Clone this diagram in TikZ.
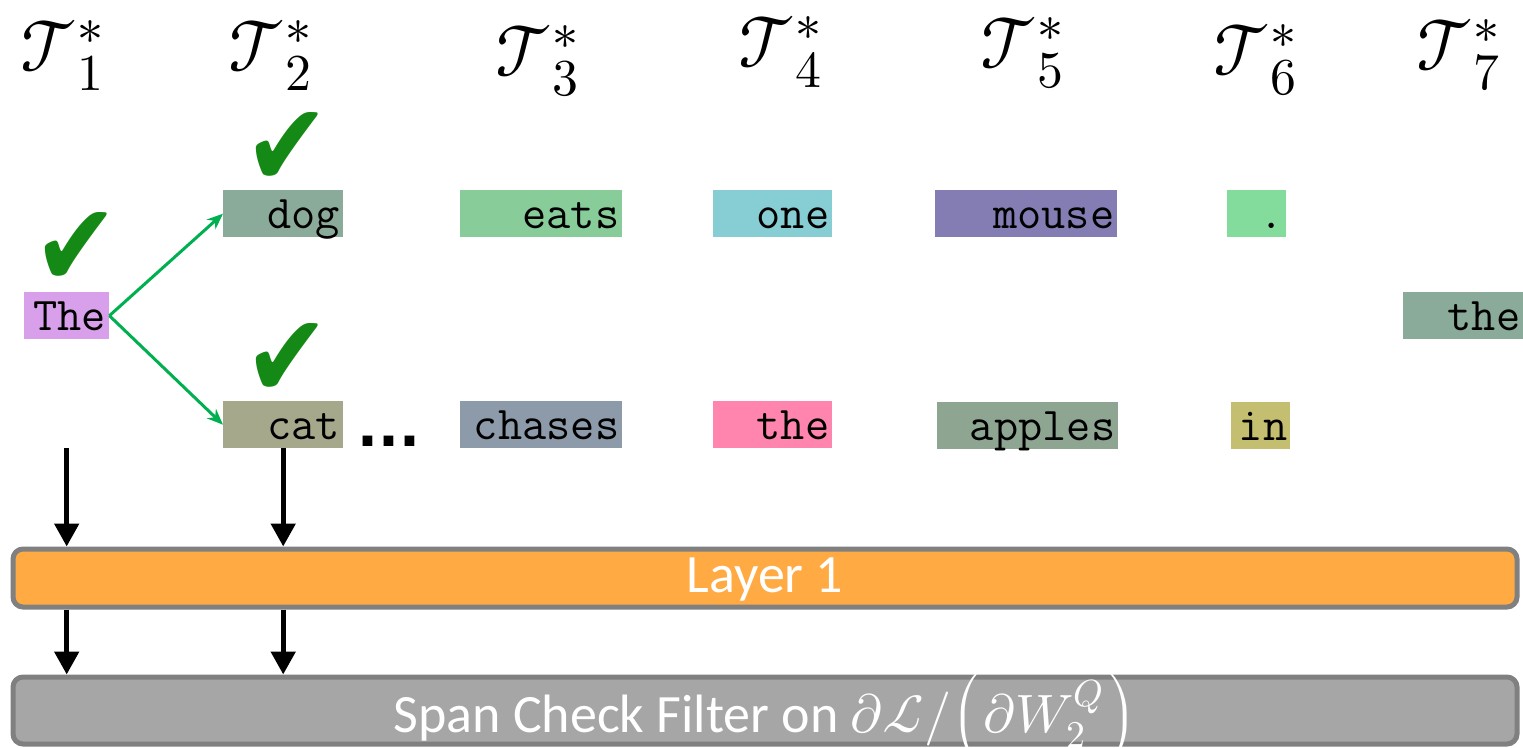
\documentclass[tikz,border=0pt]{standalone}
\usepackage{fontspec}
\usepackage{unicode-math}
\setmathfont{Latin Modern Math}
\newfontfamily\bandfont{Carlito}
\newfontfamily\chkfont{DejaVu Sans}
\usepackage{tikz}
\usetikzlibrary{arrows.meta, positioning}
\definecolor{chkgreen}{RGB}{21, 137, 21}
\definecolor{arrgreen}{RGB}{0, 176, 80}
\definecolor{bandgray}{RGB}{128, 128, 128}
\definecolor{filtergray}{RGB}{166, 166, 166}
\definecolor{layerorange}{RGB}{255, 170, 66}
\definecolor{cThe}{RGB}{216, 160, 234}
\definecolor{cDog}{RGB}{138, 170, 154}
\definecolor{cCat}{RGB}{165, 168, 139}
\definecolor{cEats}{RGB}{136, 204, 154}
\definecolor{cOne}{RGB}{134, 206, 212}
\definecolor{cMouse}{RGB}{131, 125, 179}
\definecolor{cDot}{RGB}{132, 220, 156}
\definecolor{cChases}{RGB}{140, 154, 170}
\definecolor{cPink}{RGB}{255, 133, 174}
\definecolor{cApples}{RGB}{142, 165, 146}
\definecolor{cIn}{RGB}{196, 190, 112}

\begin{document}
\begin{tikzpicture}[
    x=1pt, y=-1pt,
    lab/.style={anchor=base west, inner sep=0pt,
                font=\fontsize{74}{84}\selectfont},
    tok/.style 2 args={anchor=north west, fill=#1, text width=#2pt,
                       align=right, inner xsep=3pt, inner ysep=0pt,
                       text height=38pt, text depth=9pt,
                       font=\ttfamily\fontsize{47}{52}\selectfont},
    chk/.style={inner sep=0pt, anchor=south, text=chkgreen,
                font=\chkfont\fontsize{102}{102}\selectfont},
    band/.style={draw=bandgray, line width=5pt, rounded corners=10pt,
                 inner sep=0pt, minimum width=1504pt, text=white,
                 font=\bandfont\fontsize{54}{60}\selectfont},
    branch/.style={-{Stealth[length=16pt, width=13pt]}, line width=3pt,
                   color=arrgreen},
    down/.style={-{Triangle[length=23pt, width=24pt]}, line width=5pt},
]
    \useasboundingbox (0,0) rectangle (1523,747);

    % step labels
    \node[lab] (lab1) at (20,71)   {$\mathcal{T}_1^*$};
    \node[lab] (lab2) at (228,71)  {$\mathcal{T}_2^*$};
    \node[lab] (lab3) at (495,76)  {$\mathcal{T}_3^*$};
    \node[lab] (lab4) at (738,67)  {$\mathcal{T}_4^*$};
    \node[lab] (lab5) at (980,68)  {$\mathcal{T}_5^*$};
    \node[lab] (lab6) at (1213,75) {$\mathcal{T}_6^*$};
    \node[lab] (lab7) at (1416,70) {$\mathcal{T}_7^*$};

    % tokens
    \node[tok={cThe}{79}]     (tThe)    at (24,292)   {The};
    \node[tok={cDog}{114}]    (tDog)    at (223,190)  {dog};
    \node[tok={cCat}{114}]    (tCat)    at (223,401)  {cat};
    \node[tok={cEats}{156}]   (tEats)   at (460,190)  {eats};
    \node[tok={cOne}{113}]    (tOne)    at (713,190)  {one};
    \node[tok={cMouse}{176}]  (tMouse)  at (935,190)  {mouse};
    \node[tok={cDot}{53}]     (tDot)    at (1227,190) {.};
    \node[tok={cDog}{114}]    (tTheB)   at (1403,292) {the};
    \node[tok={cChases}{156}] (tChases) at (460,401)  {chases};
    \node[tok={cPink}{113}]   (tTheC)   at (713,401)  {the};
    \node[tok={cApples}{175}] (tApples) at (937,402)  {apples};
    \node[tok={cIn}{53}]      (tIn)     at (1231,402) {in};

    \node[anchor=base west, inner sep=0pt,
          font=\chkfont\bfseries\fontsize{55}{60}\selectfont] (dots) at (357,446) {...};

    % checks
    \node[chk] (kThe) at ([xshift=10pt, yshift=5pt]tThe.north) {\scalebox{1}[1.15]{✔}};
    \node[chk] (kDog) at ([xshift=4pt, yshift=3pt]tDog.north)  {\scalebox{1}[1.15]{✔}};
    \node[chk] (kCat) at ([xshift=4pt, yshift=3pt]tCat.north)  {\scalebox{1}[1.15]{✔}};

    % layers
    \node[band, fill=layerorange, text height=43pt, text depth=15pt]
        (layer) at (765,578) {Layer 1};
    \node[band, fill=filtergray, text height=55pt, text depth=12pt]
        (filter) at (765,710.5)
        {Span Check Filter on $\partial\mathcal{L}/\Bigl(\partial W_2^{Q}\Bigr)$};

    \draw[branch] (tThe.east) -- (tDog.west);
    \draw[branch] (tThe.east) -- (tCat.west);
    \draw[down] (tThe |- tCat.south) -- (tThe |- layer.north);
    \draw[down] (tCat.south) -- (tCat.south |- layer.north);
    \draw[down] (tThe |- layer.south) -- (tThe |- filter.north);
    \draw[down] (tCat.south |- layer.south) -- (tCat.south |- filter.north);
\end{tikzpicture}
\end{document}
